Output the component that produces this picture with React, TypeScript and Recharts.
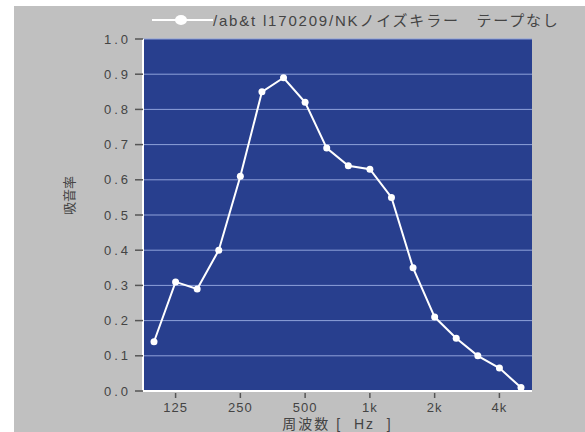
import React from "react";
import {
  LineChart,
  Line,
  XAxis,
  YAxis,
  CartesianGrid,
} from "recharts";

const freqs = [
  "100", "125", "160", "200", "250", "315", "400", "500", "630",
  "800", "1k", "1.25k", "1.6k", "2k", "2.5k", "3.15k", "4k", "5k",
];
const absorption = [
  0.14, 0.31, 0.29, 0.4, 0.61, 0.85, 0.89, 0.82, 0.69,
  0.64, 0.63, 0.55, 0.35, 0.21, 0.15, 0.1, 0.065, 0.01,
];
const labeledFreqs = ["125", "250", "500", "1k", "2k", "4k"];
const yTicks = [0, 0.1, 0.2, 0.3, 0.4, 0.5, 0.6, 0.7, 0.8, 0.9, 1.0];
const seriesName = "/ab&t l170209/NKノイズキラー　テープなし";

const data = freqs.map((f, i) => ({ f, v: absorption[i] }));

const FONT = "'Liberation Sans', Arial, 'Noto Sans CJK JP', sans-serif";
const TEXT = "#444";
const FRAME = { stroke: "#fff", strokeWidth: 2 };

function FreqTick(props: any) {
  const { x, y, payload } = props;
  if (!labeledFreqs.includes(payload.value)) return null;
  return (
    <g>
      <line x1={x} x2={x} y1={y - 6} y2={y - 1} stroke="#555" strokeWidth={1.5} />
      <text
        x={x}
        y={y + 13}
        textAnchor="middle"
        fill={TEXT}
        fontSize={13}
        fontFamily={FONT}
        letterSpacing={1}
      >
        {payload.value}
      </text>
    </g>
  );
}

export default function App() {
  return (
    <div style={{ position: "absolute", left: 0, top: 0, width: 585, height: 432, background: "#fff" }}>
      <div style={{ position: "absolute", left: 14, top: 6, width: 571, height: 426, background: "#C0C0C0" }} />
      <div style={{ position: "absolute", left: 0, top: 0 }}>
        <LineChart
          width={585}
          height={432}
          data={data}
          margin={{ top: 39, right: 53, bottom: 0, left: 0 }}
        >
          <CartesianGrid
            vertical={false}
            fill="#283F8E"
            fillOpacity={1}
            stroke="#8FA2DA"
            strokeWidth={1}
          />
          <XAxis
            dataKey="f"
            height={41}
            interval={0}
            padding={{ left: 11, right: 11 }}
            axisLine={FRAME}
            tickLine={false}
            tick={<FreqTick />}
            label={{
              value: "周波数\u00a0[\u00a0\u00a0Hz\u00a0\u00a0]",
              position: "insideBottom",
              offset: 3,
              fill: TEXT,
              fontSize: 14,
              fontFamily: FONT,
              letterSpacing: 2,
            }}
          />
          <XAxis
            xAxisId="top"
            orientation="top"
            dataKey="f"
            height={0}
            axisLine={FRAME}
            tick={false}
            tickLine={false}
          />
          <YAxis
            width={143}
            domain={[0, 1]}
            ticks={yTicks}
            interval={0}
            tickFormatter={(v: number) => v.toFixed(1)}
            axisLine={FRAME}
            tickLine={{ stroke: "#555", strokeWidth: 1.5 }}
            tickSize={8}
            tickMargin={4}
            tick={{ fill: TEXT, fontSize: 13, fontFamily: FONT, letterSpacing: 3 }}
            label={{
              value: "吸音率",
              angle: -90,
              position: "insideLeft",
              offset: 69,
              fill: TEXT,
              fontSize: 13,
              fontFamily: FONT,
            }}
          />
          <YAxis
            yAxisId="right"
            orientation="right"
            width={0}
            domain={[0, 1]}
            axisLine={FRAME}
            tick={false}
            tickLine={false}
          />
          <Line
            type="linear"
            dataKey="v"
            stroke="#fff"
            strokeWidth={2}
            dot={{ r: 3.5, fill: "#fff", stroke: "#fff", strokeWidth: 0 }}
            isAnimationActive={false}
          />
        </LineChart>
      </div>
      <div
        style={{
          position: "absolute",
          left: 152,
          top: 9,
          width: 430,
          display: "flex",
          alignItems: "center",
          fontFamily: FONT,
          fontSize: 15,
          letterSpacing: 1.8,
          color: TEXT,
          whiteSpace: "nowrap",
        }}
      >
        <svg width={61} height={20} style={{ flexShrink: 0 }}>
          <line x1={0} x2={61} y1={10} y2={10} stroke="#fff" strokeWidth={2} />
          <ellipse cx={29} cy={10} rx={6} ry={5} fill="#fff" />
        </svg>
        <span>{seriesName}</span>
      </div>
    </div>
  );
}
